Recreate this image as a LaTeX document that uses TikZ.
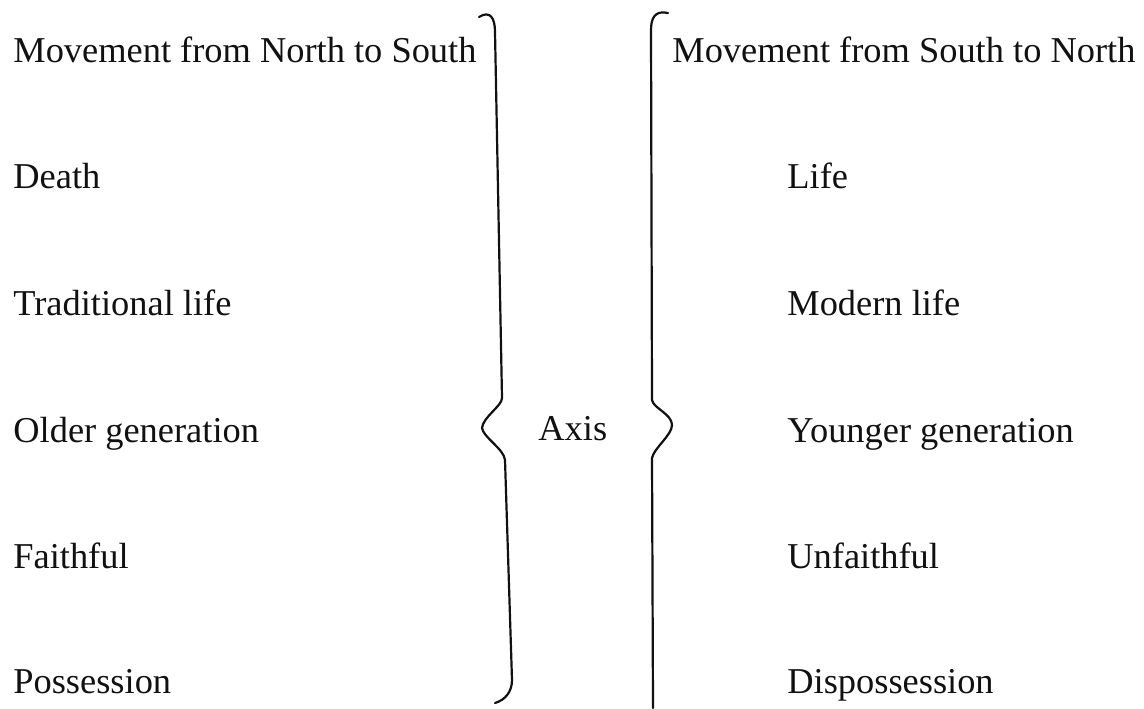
\documentclass[tikz,border=0pt]{standalone}
\usepackage{fontspec}
\setmainfont{Liberation Serif}
\definecolor{inkblack}{HTML}{111111}

\begin{document}
\begin{tikzpicture}[x=0.5pt, y=-0.5pt,
  entry/.style={anchor=base west, inner sep=0pt, text=inkblack, font=\fontsize{18.2}{22}\selectfont},
  bracepath/.style={draw=inkblack, line width=1.1pt, line cap=round, line join=round}]

% Page frame (pixels of the reference)
\useasboundingbox (0,0) rectangle (1144,708);

% Left column: North to South
\node[entry] (ns) at (13,62) {Movement from North to South};
\node[entry] (death) at (13,188) {Death};
\node[entry] (trad) at (13,315) {Traditional life};
\node[entry] (older) at (13,442) {Older generation};
\node[entry] (faith) at (13,568) {Faithful};
\node[entry] (poss) at (13,693) {Possession};

% Middle
\node[entry] (axis) at (538,440) {Axis};

% Right column: South to North
\node[entry] (sn) at (672,62) {Movement from South to North};
\node[entry] (life) at (787,188) {Life};
\node[entry] (modern) at (787,315) {Modern life};
\node[entry] (younger) at (787,442) {Younger generation};
\node[entry] (unfaith) at (787,568) {Unfaithful};
\node[entry] (dispos) at (787,693) {Dispossession};

% Left brace (closing, tip points to the axis)
\draw[bracepath] (479,17) .. controls (490,10) and (495,18) .. (495,32)
  -- (502,398) .. controls (502,406) and (483,417) .. (482,428)
  .. controls (483,437) and (504,449) .. (505,460)
  -- (512,680) .. controls (512,692) and (505,700) .. (495,703);

% Right brace (opening, tip points away)
\draw[bracepath] (668,13) .. controls (655,10) and (651,18) .. (651,30)
  -- (652,400) .. controls (653,408) and (672,414) .. (672,425)
  .. controls (672,435) and (654,448) .. (652,458)
  -- (653,708);

\end{tikzpicture}
\end{document}
